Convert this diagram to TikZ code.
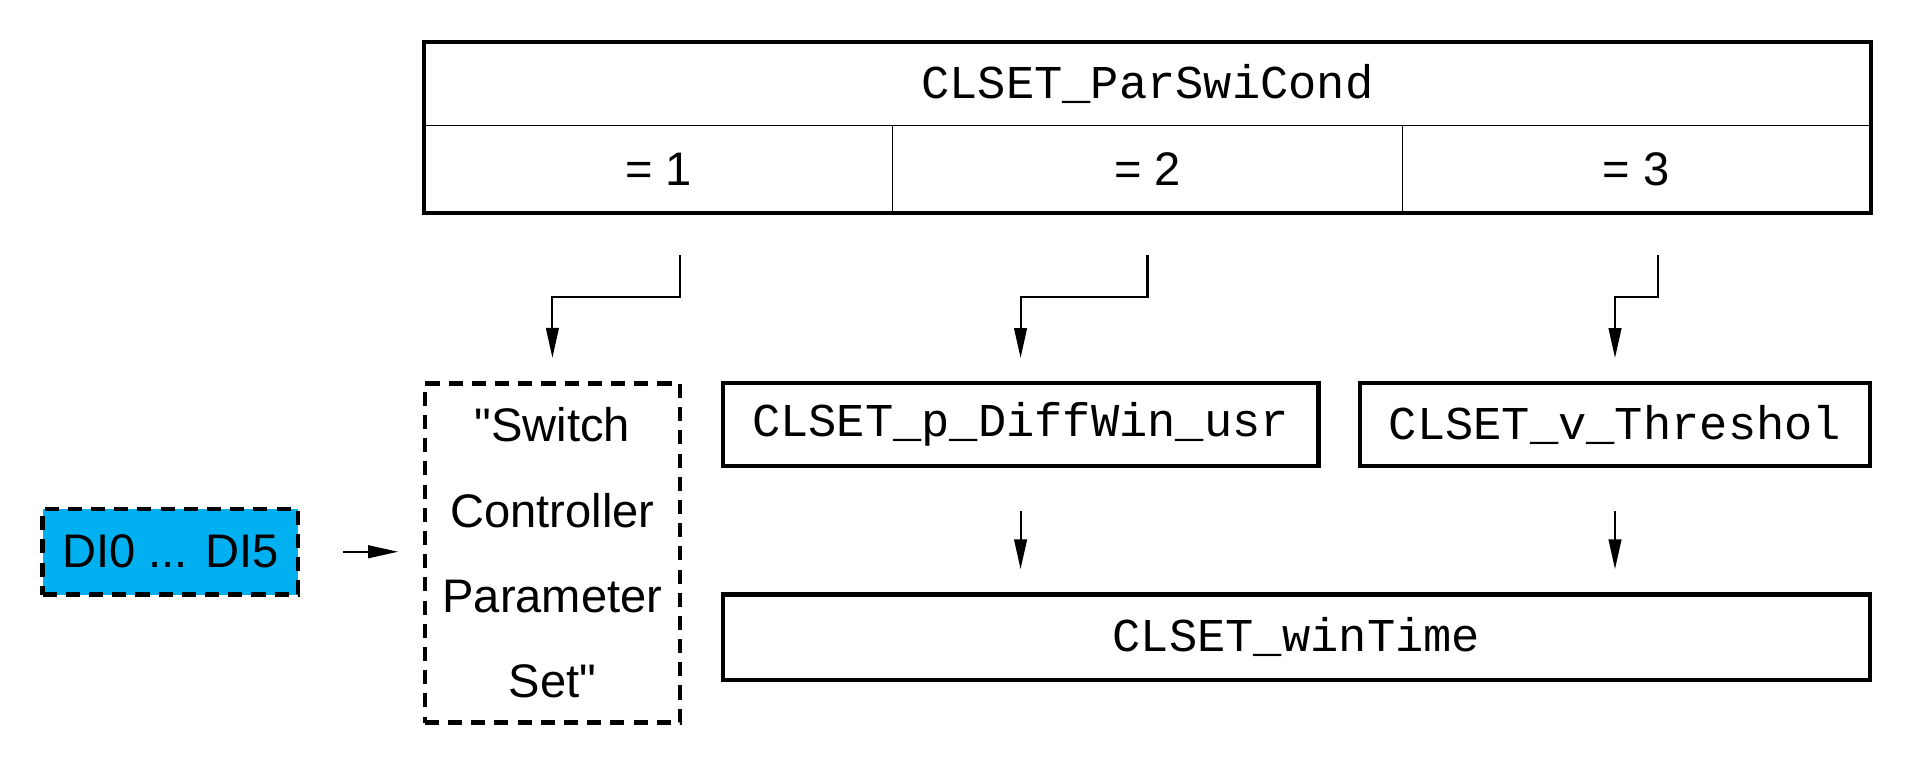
\documentclass[tikz,border=0pt]{standalone}
\usepackage{fontspec}
\setmainfont{Liberation Sans}[Ligatures=TeXOff]
\setmonofont{Liberation Mono}
\usetikzlibrary{arrows.meta}
\definecolor{dicyan}{RGB}{0,176,240}
\tikzset{
    arr/.style={-{Triangle[length=8.5pt,width=3.6pt]}, line width=0.6pt},
    box/.style={draw, line width=1.2pt, inner sep=0pt, minimum height=0.83cm,
        font=\fontsize{13.4}{16}\selectfont\ttfamily},
    dashbox/.style={draw, line width=1.3pt, dash pattern=on 4pt off 2.6pt, inner sep=0pt},
}
\begin{document}
\begin{tikzpicture}
    \useasboundingbox (0,0) rectangle (19.14,-7.68);

    % selector table
    \begin{scope}[every node/.style={draw, line width=0.4pt, inner sep=0pt, font=\fontsize{13.4}{16}\selectfont}]
        \node[minimum width=14.453cm, minimum height=0.83cm, font=\fontsize{13.4}{16}\selectfont\ttfamily] (cond) at (11.4745,-0.842) {CLSET\_ParSwiCond};
        \node[minimum width=4.675cm, minimum height=0.867cm] (eq1) at (6.5855,-1.6905) {= 1};
        \node[minimum width=5.103cm, minimum height=0.867cm] (eq2) at (11.4745,-1.6905) {= 2};
        \node[minimum width=4.675cm, minimum height=0.867cm] (eq3) at (16.3635,-1.6905) {= 3};
    \end{scope}
    \draw[line width=1.2pt] (cond.north west) rectangle (eq3.south east);

    % parameter boxes
    \node[dashbox, fill=dicyan, minimum width=2.552cm, minimum height=0.855cm, font=\fontsize{13.4}{16}\selectfont] (di) at (1.703,-5.5175) {DI0 ... DI5};
    \node[dashbox, minimum width=2.552cm, minimum height=3.394cm, align=center, font=\fontsize{13.4}{24.3}\selectfont] (switch) at (5.524,-5.53) {"Switch\\Controller\\Parameter\\Set"};
    \node[box, minimum width=5.957cm] (pdiff) at (10.2055,-4.248) {CLSET\_p\_DiffWin\_usr};
    \node[box, minimum width=5.102cm] (vthr) at (16.15,-4.248) {CLSET\_v\_Threshol};
    \node[box, minimum width=11.474cm, minimum height=0.855cm] (wintime) at (12.964,-6.3725) {CLSET\_winTime};

    \coordinate (o1) at (6.80,-2.551);
    \coordinate (o2) at (11.475,-2.551);
    \coordinate (o3) at (16.577,-2.551);

    \begin{scope}[every edge/.style={draw, arr}]
        \draw[arr, shorten >=0.232cm] (o1) -- ++(0,-0.415) -| (switch.north);
        \draw[arr, shorten >=0.232cm] (o2) -- ++(0,-0.415) -| (pdiff.north);
        \draw[arr, shorten >=0.232cm] (o3) -- ++(0,-0.415) -| (vthr.north);
        \path [shorten <=0.427cm, shorten >=0.232cm] (pdiff.south) edge (pdiff.south |- wintime.north);
        \path [shorten <=0.427cm, shorten >=0.232cm] (vthr.south) edge (vthr.south |- wintime.north);
        \path [shorten <=0.427cm, shorten >=0.244cm] (di.east) edge (di.east -| switch.west);
    \end{scope}
\end{tikzpicture}
\end{document}
